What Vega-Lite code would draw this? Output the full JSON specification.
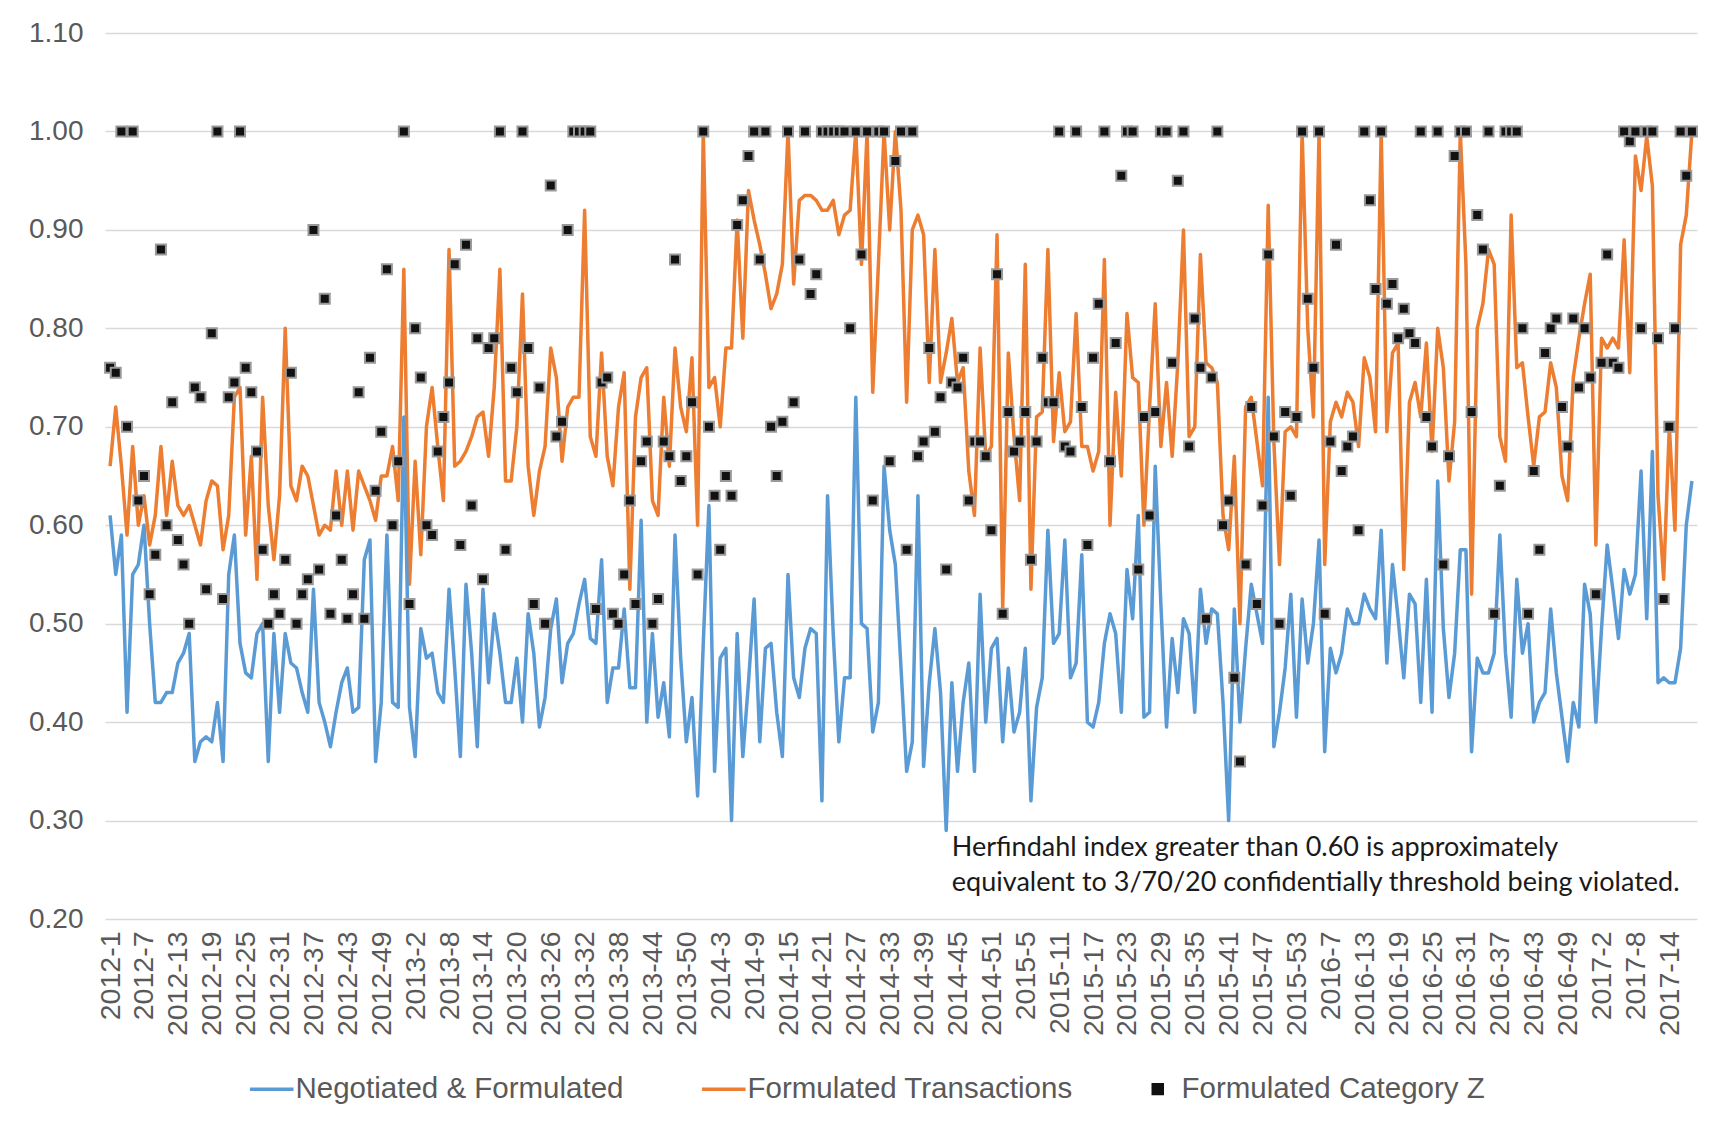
{
"$schema": "https://vega.github.io/schema/vega-lite/v6.json",
"width": 1592,
"height": 886,
"autosize": {"type": "none"},
"padding": {"left": 105, "top": 33, "right": 25, "bottom": 204},
"background": "white",
"config": {"view": {"stroke": null}, "font": "Liberation Sans"},
"data": {"values": [
{"w":"2012-1","nf":0.61,"ft":0.66,"z":0.76},
{"w":"2012-2","nf":0.55,"ft":0.72,"z":0.755},
{"w":"2012-3","nf":0.59,"ft":0.66,"z":1.0},
{"w":"2012-4","nf":0.41,"ft":0.59,"z":0.70},
{"w":"2012-5","nf":0.55,"ft":0.68,"z":1.0},
{"w":"2012-6","nf":0.56,"ft":0.60,"z":0.625},
{"w":"2012-7","nf":0.60,"ft":0.63,"z":0.65},
{"w":"2012-8","nf":0.50,"ft":0.58,"z":0.53},
{"w":"2012-9","nf":0.42,"ft":0.61,"z":0.57},
{"w":"2012-10","nf":0.42,"ft":0.68,"z":0.88},
{"w":"2012-11","nf":0.43,"ft":0.61,"z":0.60},
{"w":"2012-12","nf":0.43,"ft":0.665,"z":0.725},
{"w":"2012-13","nf":0.46,"ft":0.62,"z":0.585},
{"w":"2012-14","nf":0.47,"ft":0.61,"z":0.56},
{"w":"2012-15","nf":0.49,"ft":0.62,"z":0.50},
{"w":"2012-16","nf":0.36,"ft":0.60,"z":0.74},
{"w":"2012-17","nf":0.38,"ft":0.58,"z":0.73},
{"w":"2012-18","nf":0.385,"ft":0.625,"z":0.535},
{"w":"2012-19","nf":0.38,"ft":0.645,"z":0.795},
{"w":"2012-20","nf":0.42,"ft":0.64,"z":1.0},
{"w":"2012-21","nf":0.36,"ft":0.575,"z":0.525},
{"w":"2012-22","nf":0.55,"ft":0.61,"z":0.73},
{"w":"2012-23","nf":0.59,"ft":0.73,"z":0.745},
{"w":"2012-24","nf":0.48,"ft":0.74,"z":1.0},
{"w":"2012-25","nf":0.45,"ft":0.59,"z":0.76},
{"w":"2012-26","nf":0.445,"ft":0.67,"z":0.735},
{"w":"2012-27","nf":0.49,"ft":0.545,"z":0.675},
{"w":"2012-28","nf":0.50,"ft":0.73,"z":0.575},
{"w":"2012-29","nf":0.36,"ft":0.62,"z":0.50},
{"w":"2012-30","nf":0.49,"ft":0.565,"z":0.53},
{"w":"2012-31","nf":0.41,"ft":0.63,"z":0.51},
{"w":"2012-32","nf":0.49,"ft":0.80,"z":0.565},
{"w":"2012-33","nf":0.46,"ft":0.64,"z":0.755},
{"w":"2012-34","nf":0.455,"ft":0.625,"z":0.50},
{"w":"2012-35","nf":0.43,"ft":0.66,"z":0.53},
{"w":"2012-36","nf":0.41,"ft":0.65,"z":0.545},
{"w":"2012-37","nf":0.535,"ft":0.62,"z":0.90},
{"w":"2012-38","nf":0.42,"ft":0.59,"z":0.555},
{"w":"2012-39","nf":0.40,"ft":0.60,"z":0.83},
{"w":"2012-40","nf":0.375,"ft":0.595,"z":0.51},
{"w":"2012-41","nf":0.41,"ft":0.655,"z":0.61},
{"w":"2012-42","nf":0.44,"ft":0.60,"z":0.565},
{"w":"2012-43","nf":0.455,"ft":0.655,"z":0.505},
{"w":"2012-44","nf":0.41,"ft":0.595,"z":0.53},
{"w":"2012-45","nf":0.415,"ft":0.655,"z":0.735},
{"w":"2012-46","nf":0.565,"ft":0.64,"z":0.505},
{"w":"2012-47","nf":0.585,"ft":0.625,"z":0.77},
{"w":"2012-48","nf":0.36,"ft":0.605,"z":0.635},
{"w":"2012-49","nf":0.42,"ft":0.65,"z":0.695},
{"w":"2012-50","nf":0.59,"ft":0.65,"z":0.86},
{"w":"2012-51","nf":0.42,"ft":0.68,"z":0.60},
{"w":"2012-52","nf":0.415,"ft":0.625,"z":0.665},
{"w":"2012-53","nf":0.71,"ft":0.86,"z":1.0},
{"w":"2013-1","nf":0.415,"ft":0.54,"z":0.52},
{"w":"2013-2","nf":0.365,"ft":0.665,"z":0.80},
{"w":"2013-3","nf":0.495,"ft":0.57,"z":0.75},
{"w":"2013-4","nf":0.465,"ft":0.70,"z":0.60},
{"w":"2013-5","nf":0.47,"ft":0.74,"z":0.59},
{"w":"2013-6","nf":0.43,"ft":0.68,"z":0.675},
{"w":"2013-7","nf":0.42,"ft":0.625,"z":0.71},
{"w":"2013-8","nf":0.535,"ft":0.88,"z":0.745},
{"w":"2013-9","nf":0.455,"ft":0.66,"z":0.865},
{"w":"2013-10","nf":0.365,"ft":0.665,"z":0.58},
{"w":"2013-11","nf":0.54,"ft":0.675,"z":0.885},
{"w":"2013-12","nf":0.47,"ft":0.69,"z":0.62},
{"w":"2013-13","nf":0.375,"ft":0.71,"z":0.79},
{"w":"2013-14","nf":0.535,"ft":0.715,"z":0.545},
{"w":"2013-15","nf":0.44,"ft":0.67,"z":0.78},
{"w":"2013-16","nf":0.51,"ft":0.74,"z":0.79},
{"w":"2013-17","nf":0.47,"ft":0.86,"z":1.0},
{"w":"2013-18","nf":0.42,"ft":0.645,"z":0.575},
{"w":"2013-19","nf":0.42,"ft":0.645,"z":0.76},
{"w":"2013-20","nf":0.465,"ft":0.70,"z":0.735},
{"w":"2013-21","nf":0.40,"ft":0.835,"z":1.0},
{"w":"2013-22","nf":0.51,"ft":0.66,"z":0.78},
{"w":"2013-23","nf":0.47,"ft":0.61,"z":0.52},
{"w":"2013-24","nf":0.395,"ft":0.655,"z":0.74},
{"w":"2013-25","nf":0.425,"ft":0.68,"z":0.50},
{"w":"2013-26","nf":0.495,"ft":0.78,"z":0.945},
{"w":"2013-27","nf":0.525,"ft":0.75,"z":0.69},
{"w":"2013-28","nf":0.44,"ft":0.665,"z":0.705},
{"w":"2013-29","nf":0.48,"ft":0.72,"z":0.90},
{"w":"2013-30","nf":0.49,"ft":0.73,"z":1.0},
{"w":"2013-31","nf":0.52,"ft":0.73,"z":1.0},
{"w":"2013-32","nf":0.545,"ft":0.92,"z":1.0},
{"w":"2013-33","nf":0.485,"ft":0.69,"z":1.0},
{"w":"2013-34","nf":0.48,"ft":0.67,"z":0.515},
{"w":"2013-35","nf":0.565,"ft":0.775,"z":0.745},
{"w":"2013-36","nf":0.42,"ft":0.67,"z":0.75},
{"w":"2013-37","nf":0.455,"ft":0.64,"z":0.51},
{"w":"2013-38","nf":0.455,"ft":0.72,"z":0.50},
{"w":"2013-39","nf":0.515,"ft":0.755,"z":0.55},
{"w":"2013-40","nf":0.435,"ft":0.535,"z":0.625},
{"w":"2013-41","nf":0.435,"ft":0.71,"z":0.52},
{"w":"2013-42","nf":0.605,"ft":0.75,"z":0.665},
{"w":"2013-43","nf":0.40,"ft":0.76,"z":0.685},
{"w":"2013-44","nf":0.49,"ft":0.625,"z":0.50},
{"w":"2013-45","nf":0.405,"ft":0.61,"z":0.525},
{"w":"2013-46","nf":0.44,"ft":0.73,"z":0.685},
{"w":"2013-47","nf":0.385,"ft":0.66,"z":0.67},
{"w":"2013-48","nf":0.59,"ft":0.78,"z":0.87},
{"w":"2013-49","nf":0.465,"ft":0.72,"z":0.645},
{"w":"2013-50","nf":0.38,"ft":0.695,"z":0.67},
{"w":"2013-51","nf":0.425,"ft":0.77,"z":0.725},
{"w":"2013-52","nf":0.325,"ft":0.60,"z":0.55},
{"w":"2013-53","nf":0.48,"ft":1.0,"z":1.0},
{"w":"2014-1","nf":0.62,"ft":0.74,"z":0.70},
{"w":"2014-2","nf":0.35,"ft":0.75,"z":0.63},
{"w":"2014-3","nf":0.465,"ft":0.70,"z":0.575},
{"w":"2014-4","nf":0.475,"ft":0.78,"z":0.65},
{"w":"2014-5","nf":0.30,"ft":0.78,"z":0.63},
{"w":"2014-6","nf":0.49,"ft":0.91,"z":0.905},
{"w":"2014-7","nf":0.365,"ft":0.79,"z":0.93},
{"w":"2014-8","nf":0.44,"ft":0.94,"z":0.975},
{"w":"2014-9","nf":0.525,"ft":0.91,"z":1.0},
{"w":"2014-10","nf":0.38,"ft":0.885,"z":0.87},
{"w":"2014-11","nf":0.475,"ft":0.855,"z":1.0},
{"w":"2014-12","nf":0.48,"ft":0.82,"z":0.70},
{"w":"2014-13","nf":0.41,"ft":0.835,"z":0.65},
{"w":"2014-14","nf":0.365,"ft":0.865,"z":0.705},
{"w":"2014-15","nf":0.55,"ft":1.0,"z":1.0},
{"w":"2014-16","nf":0.445,"ft":0.845,"z":0.725},
{"w":"2014-17","nf":0.425,"ft":0.93,"z":0.87},
{"w":"2014-18","nf":0.475,"ft":0.935,"z":1.0},
{"w":"2014-19","nf":0.495,"ft":0.935,"z":0.835},
{"w":"2014-20","nf":0.49,"ft":0.93,"z":0.855},
{"w":"2014-21","nf":0.32,"ft":0.92,"z":1.0},
{"w":"2014-22","nf":0.63,"ft":0.92,"z":1.0},
{"w":"2014-23","nf":0.49,"ft":0.93,"z":1.0},
{"w":"2014-24","nf":0.38,"ft":0.895,"z":1.0},
{"w":"2014-25","nf":0.445,"ft":0.915,"z":1.0},
{"w":"2014-26","nf":0.445,"ft":0.92,"z":0.80},
{"w":"2014-27","nf":0.73,"ft":1.0,"z":1.0},
{"w":"2014-28","nf":0.50,"ft":0.865,"z":0.875},
{"w":"2014-29","nf":0.495,"ft":1.0,"z":1.0},
{"w":"2014-30","nf":0.39,"ft":0.735,"z":0.625},
{"w":"2014-31","nf":0.42,"ft":0.865,"z":1.0},
{"w":"2014-32","nf":0.66,"ft":1.0,"z":1.0},
{"w":"2014-33","nf":0.595,"ft":0.90,"z":0.665},
{"w":"2014-34","nf":0.56,"ft":1.0,"z":0.97},
{"w":"2014-35","nf":0.455,"ft":0.92,"z":1.0},
{"w":"2014-36","nf":0.35,"ft":0.725,"z":0.575},
{"w":"2014-37","nf":0.38,"ft":0.90,"z":1.0},
{"w":"2014-38","nf":0.63,"ft":0.915,"z":0.67},
{"w":"2014-39","nf":0.355,"ft":0.895,"z":0.685},
{"w":"2014-40","nf":0.44,"ft":0.745,"z":0.78},
{"w":"2014-41","nf":0.495,"ft":0.88,"z":0.695},
{"w":"2014-42","nf":0.43,"ft":0.745,"z":0.73},
{"w":"2014-43","nf":0.29,"ft":0.775,"z":0.555},
{"w":"2014-44","nf":0.44,"ft":0.81,"z":0.745,"note":"Herfindahl index greater than 0.60 is approximately\nequivalent to 3/70/20 confidentially threshold being violated."},
{"w":"2014-45","nf":0.35,"ft":0.745,"z":0.74},
{"w":"2014-46","nf":0.42,"ft":0.76,"z":0.77},
{"w":"2014-47","nf":0.46,"ft":0.655,"z":0.625},
{"w":"2014-48","nf":0.35,"ft":0.61,"z":0.685},
{"w":"2014-49","nf":0.53,"ft":0.78,"z":0.685},
{"w":"2014-50","nf":0.40,"ft":0.67,"z":0.67},
{"w":"2014-51","nf":0.475,"ft":0.68,"z":0.595},
{"w":"2014-52","nf":0.485,"ft":0.895,"z":0.855},
{"w":"2015-1","nf":0.38,"ft":0.515,"z":0.51},
{"w":"2015-2","nf":0.455,"ft":0.775,"z":0.715},
{"w":"2015-3","nf":0.39,"ft":0.69,"z":0.675},
{"w":"2015-4","nf":0.41,"ft":0.625,"z":0.685},
{"w":"2015-5","nf":0.475,"ft":0.865,"z":0.715},
{"w":"2015-6","nf":0.32,"ft":0.535,"z":0.565},
{"w":"2015-7","nf":0.415,"ft":0.71,"z":0.685},
{"w":"2015-8","nf":0.445,"ft":0.715,"z":0.77},
{"w":"2015-9","nf":0.595,"ft":0.88,"z":0.725},
{"w":"2015-10","nf":0.48,"ft":0.685,"z":0.725},
{"w":"2015-11","nf":0.49,"ft":0.755,"z":1.0},
{"w":"2015-12","nf":0.585,"ft":0.695,"z":0.68},
{"w":"2015-13","nf":0.445,"ft":0.705,"z":0.675},
{"w":"2015-14","nf":0.46,"ft":0.815,"z":1.0},
{"w":"2015-15","nf":0.57,"ft":0.68,"z":0.72},
{"w":"2015-16","nf":0.40,"ft":0.68,"z":0.58},
{"w":"2015-17","nf":0.395,"ft":0.655,"z":0.77},
{"w":"2015-18","nf":0.42,"ft":0.675,"z":0.825},
{"w":"2015-19","nf":0.48,"ft":0.87,"z":1.0},
{"w":"2015-20","nf":0.51,"ft":0.60,"z":0.665},
{"w":"2015-21","nf":0.49,"ft":0.735,"z":0.785},
{"w":"2015-22","nf":0.41,"ft":0.65,"z":0.955},
{"w":"2015-23","nf":0.555,"ft":0.815,"z":1.0},
{"w":"2015-24","nf":0.505,"ft":0.75,"z":1.0},
{"w":"2015-25","nf":0.61,"ft":0.745,"z":0.555},
{"w":"2015-26","nf":0.405,"ft":0.60,"z":0.71},
{"w":"2015-27","nf":0.41,"ft":0.72,"z":0.61},
{"w":"2015-28","nf":0.66,"ft":0.825,"z":0.715},
{"w":"2015-29","nf":0.52,"ft":0.68,"z":1.0},
{"w":"2015-30","nf":0.395,"ft":0.745,"z":1.0},
{"w":"2015-31","nf":0.485,"ft":0.67,"z":0.765},
{"w":"2015-32","nf":0.43,"ft":0.765,"z":0.95},
{"w":"2015-33","nf":0.505,"ft":0.90,"z":1.0},
{"w":"2015-34","nf":0.49,"ft":0.69,"z":0.68},
{"w":"2015-35","nf":0.41,"ft":0.70,"z":0.81},
{"w":"2015-36","nf":0.535,"ft":0.875,"z":0.76},
{"w":"2015-37","nf":0.48,"ft":0.765,"z":0.505},
{"w":"2015-38","nf":0.515,"ft":0.76,"z":0.75},
{"w":"2015-39","nf":0.51,"ft":0.745,"z":1.0},
{"w":"2015-40","nf":0.42,"ft":0.61,"z":0.60},
{"w":"2015-41","nf":0.30,"ft":0.575,"z":0.625},
{"w":"2015-42","nf":0.515,"ft":0.67,"z":0.445},
{"w":"2015-43","nf":0.40,"ft":0.50,"z":0.36},
{"w":"2015-44","nf":0.475,"ft":0.72,"z":0.56},
{"w":"2015-45","nf":0.54,"ft":0.73,"z":0.72},
{"w":"2015-46","nf":0.51,"ft":0.685,"z":0.52},
{"w":"2015-47","nf":0.48,"ft":0.64,"z":0.62},
{"w":"2015-48","nf":0.73,"ft":0.925,"z":0.875},
{"w":"2015-49","nf":0.375,"ft":0.685,"z":0.69},
{"w":"2015-50","nf":0.41,"ft":0.56,"z":0.50},
{"w":"2015-51","nf":0.455,"ft":0.695,"z":0.715},
{"w":"2015-52","nf":0.53,"ft":0.70,"z":0.63},
{"w":"2015-53","nf":0.405,"ft":0.69,"z":0.71},
{"w":"2016-2","nf":0.525,"ft":1.0,"z":1.0},
{"w":"2016-3","nf":0.46,"ft":0.80,"z":0.83},
{"w":"2016-4","nf":0.50,"ft":0.71,"z":0.76},
{"w":"2016-5","nf":0.585,"ft":1.0,"z":1.0},
{"w":"2016-6","nf":0.37,"ft":0.56,"z":0.51},
{"w":"2016-7","nf":0.475,"ft":0.705,"z":0.685},
{"w":"2016-8","nf":0.45,"ft":0.725,"z":0.885},
{"w":"2016-9","nf":0.47,"ft":0.71,"z":0.655},
{"w":"2016-10","nf":0.515,"ft":0.735,"z":0.68},
{"w":"2016-11","nf":0.50,"ft":0.725,"z":0.69},
{"w":"2016-12","nf":0.50,"ft":0.68,"z":0.595},
{"w":"2016-13","nf":0.53,"ft":0.77,"z":1.0},
{"w":"2016-14","nf":0.515,"ft":0.75,"z":0.93},
{"w":"2016-15","nf":0.505,"ft":0.695,"z":0.84},
{"w":"2016-16","nf":0.595,"ft":1.0,"z":1.0},
{"w":"2016-17","nf":0.46,"ft":0.695,"z":0.825},
{"w":"2016-18","nf":0.56,"ft":0.775,"z":0.845},
{"w":"2016-19","nf":0.505,"ft":0.785,"z":0.79},
{"w":"2016-20","nf":0.445,"ft":0.555,"z":0.82},
{"w":"2016-21","nf":0.53,"ft":0.725,"z":0.795},
{"w":"2016-22","nf":0.52,"ft":0.745,"z":0.785},
{"w":"2016-23","nf":0.42,"ft":0.71,"z":1.0},
{"w":"2016-24","nf":0.545,"ft":0.785,"z":0.71},
{"w":"2016-25","nf":0.41,"ft":0.675,"z":0.68},
{"w":"2016-26","nf":0.645,"ft":0.80,"z":1.0},
{"w":"2016-27","nf":0.495,"ft":0.76,"z":0.56},
{"w":"2016-28","nf":0.425,"ft":0.645,"z":0.67},
{"w":"2016-29","nf":0.47,"ft":0.705,"z":0.975},
{"w":"2016-30","nf":0.575,"ft":1.0,"z":1.0},
{"w":"2016-31","nf":0.575,"ft":0.865,"z":1.0},
{"w":"2016-32","nf":0.37,"ft":0.53,"z":0.715},
{"w":"2016-33","nf":0.465,"ft":0.80,"z":0.915},
{"w":"2016-34","nf":0.45,"ft":0.825,"z":0.88},
{"w":"2016-35","nf":0.45,"ft":0.88,"z":1.0},
{"w":"2016-36","nf":0.47,"ft":0.865,"z":0.51},
{"w":"2016-37","nf":0.59,"ft":0.69,"z":0.64},
{"w":"2016-38","nf":0.47,"ft":0.665,"z":1.0},
{"w":"2016-39","nf":0.405,"ft":0.915,"z":1.0},
{"w":"2016-40","nf":0.545,"ft":0.76,"z":1.0},
{"w":"2016-41","nf":0.47,"ft":0.765,"z":0.80},
{"w":"2016-42","nf":0.50,"ft":0.71,"z":0.51},
{"w":"2016-43","nf":0.40,"ft":0.66,"z":0.655},
{"w":"2016-44","nf":0.42,"ft":0.71,"z":0.575},
{"w":"2016-45","nf":0.43,"ft":0.715,"z":0.775},
{"w":"2016-46","nf":0.515,"ft":0.765,"z":0.80},
{"w":"2016-47","nf":0.45,"ft":0.74,"z":0.81},
{"w":"2016-48","nf":0.405,"ft":0.65,"z":0.72},
{"w":"2016-49","nf":0.36,"ft":0.625,"z":0.68},
{"w":"2016-50","nf":0.42,"ft":0.75,"z":0.81},
{"w":"2016-51","nf":0.395,"ft":0.79,"z":0.74},
{"w":"2016-52","nf":0.54,"ft":0.825,"z":0.80},
{"w":"2016-53","nf":0.51,"ft":0.855,"z":0.75},
{"w":"2017-1","nf":0.40,"ft":0.58,"z":0.53},
{"w":"2017-2","nf":0.495,"ft":0.79,"z":0.765},
{"w":"2017-3","nf":0.58,"ft":0.78,"z":0.875},
{"w":"2017-4","nf":0.535,"ft":0.79,"z":0.765},
{"w":"2017-5","nf":0.485,"ft":0.78,"z":0.76},
{"w":"2017-6","nf":0.555,"ft":0.89,"z":1.0},
{"w":"2017-7","nf":0.53,"ft":0.755,"z":0.99},
{"w":"2017-8","nf":0.55,"ft":0.975,"z":1.0},
{"w":"2017-9","nf":0.655,"ft":0.94,"z":0.80},
{"w":"2017-10","nf":0.505,"ft":0.995,"z":1.0},
{"w":"2017-11","nf":0.675,"ft":0.945,"z":1.0},
{"w":"2017-12","nf":0.44,"ft":0.63,"z":0.79},
{"w":"2017-13","nf":0.445,"ft":0.545,"z":0.525},
{"w":"2017-14","nf":0.44,"ft":0.70,"z":0.70},
{"w":"2017-15","nf":0.44,"ft":0.595,"z":0.80},
{"w":"2017-16","nf":0.475,"ft":0.885,"z":1.0},
{"w":"2017-17","nf":0.60,"ft":0.915,"z":0.955},
{"w":"2017-18","nf":0.645,"ft":1.0,"z":1.0}
]},
"encoding": {
  "x": {"field": "w", "type": "ordinal", "sort": null,
    "scale": {"type": "point", "padding": 0.9},
    "axis": {"title": null, "values": ["2012-1","2012-7","2012-13","2012-19","2012-25","2012-31","2012-37","2012-43","2012-49","2013-2","2013-8","2013-14","2013-20","2013-26","2013-32","2013-38","2013-44","2013-50","2014-3","2014-9","2014-15","2014-21","2014-27","2014-33","2014-39","2014-45","2014-51","2015-5","2015-11","2015-17","2015-23","2015-29","2015-35","2015-41","2015-47","2015-53","2016-7","2016-13","2016-19","2016-25","2016-31","2016-37","2016-43","2016-49","2017-2","2017-8","2017-14"],
      "labelAngle": 270, "labelFontSize": 28.5, "labelColor": "#595959", "labelFont": "Liberation Sans",
      "ticks": false, "domain": false, "grid": false, "labelPadding": 12, "labelOverlap": false, "labelBound": false}
  }
},
"layer": [
  {
    "transform": [{"fold": ["ft"], "as": ["key", "value"]}],
    "mark": {"type": "line", "strokeWidth": 3.5, "strokeJoin": "round"},
    "encoding": {
      "y": {"field": "value", "type": "quantitative",
        "scale": {"domain": [0.2, 1.1], "nice": false, "zero": false},
        "axis": {"title": null, "values": [0.2,0.3,0.4,0.5,0.6,0.7,0.8,0.9,1.0,1.1], "format": ".2f",
          "labelFontSize": 28, "labelColor": "#595959", "labelFont": "Liberation Sans", "labelPadding": 22,
          "ticks": false, "domain": false, "grid": true, "gridColor": "#d9d9d9", "gridWidth": 1.3}},
      "color": {"field": "key", "type": "nominal",
        "scale": {"domain": ["nf", "ft", "z"], "range": ["#5B9BD5", "#ED7D31", "#111111"]},
        "legend": {"title": null, "orient": "none", "legendX": 152, "legendY": 1041, "direction": "horizontal", "padding": 0,
          "labelFontSize": 29.5, "labelColor": "#595959", "labelFont": "Liberation Sans", "labelLimit": 600,
          "labelOffset": 9, "symbolSize": 2500, "columnPadding": 70,
          "labelExpr": "datum.label == 'nf' ? 'Negotiated & Formulated' : datum.label == 'ft' ? 'Formulated Transactions' : 'Formulated Category Z'",
          "encode": {"symbols": {"update": {
            "shape": {"signal": "datum.value === 'z' ? 'square' : 'stroke'"},
            "size": {"signal": "datum.value === 'z' ? 110 : 1900"},
            "fill": {"signal": "datum.value === 'z' ? '#111111' : 'transparent'"},
            "stroke": {"signal": "datum.value === 'z' ? '#999999' : scale('color', datum.value)"},
            "strokeWidth": {"signal": "datum.value === 'z' ? 2 : 3.5"},
            "opacity": {"value": 1}
          }}}}
      }
    }
  },
  {
    "transform": [{"fold": ["nf"], "as": ["key", "value"]}],
    "mark": {"type": "line", "strokeWidth": 3.5, "strokeJoin": "round"},
    "encoding": {
      "y": {"field": "value", "type": "quantitative"},
      "color": {"field": "key", "type": "nominal"}
    }
  },
  {
    "transform": [{"fold": ["z"], "as": ["key", "value"]}],
    "mark": {"type": "point", "shape": "square", "filled": true, "size": 100, "stroke": "#999999", "strokeWidth": 2, "opacity": 1},
    "encoding": {
      "y": {"field": "value", "type": "quantitative"},
      "color": {"field": "key", "type": "nominal"}
    }
  },
  {
    "transform": [{"filter": "datum.note"}],
    "mark": {"type": "text", "align": "left", "baseline": "middle", "font": "Lato", "fontSize": 27, "lineBreak": "\n", "lineHeight": 35, "color": "#1a1a1a"},
    "encoding": {
      "text": {"field": "note"},
      "y": {"datum": 0.272, "type": "quantitative"}
    }
  }
]
}
